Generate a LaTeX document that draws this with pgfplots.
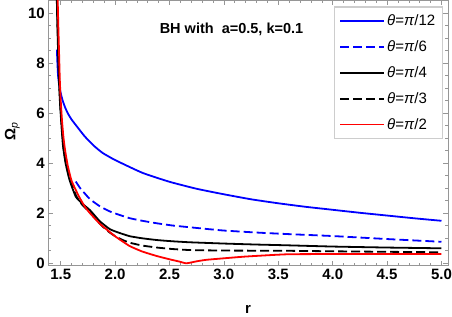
\documentclass[border=0pt]{standalone}
\usepackage{fontspec}
\setmainfont{Liberation Sans}
\usepackage{pgfplots}
\pgfplotsset{compat=1.18}
\definecolor{framegray}{RGB}{150,150,150}
\definecolor{leggray}{RGB}{205,205,205}
\begin{document}
\begin{tikzpicture}
\useasboundingbox (-48.3pt,-50.3pt) rectangle (403.7pt,265.7pt);
\begin{axis}[
  scale only axis,
  width=399.7pt, height=265.2pt,
  xmin=1.386, xmax=5.06,
  ymin=-0.096, ymax=10.51,
  xtick={1.5,2,...,5}, ytick={0,2,...,10},
  minor x tick num=4, minor y tick num=3,
  tick align=inside,
  major tick length=5pt, minor tick length=3pt,
  axis line style={framegray, line width=0.8pt},
  every tick/.style={framegray, line width=0.6pt},
  /pgf/number format/assume math mode=true,
  xticklabel style={font=\fontsize{15}{15}\selectfont\bfseries, /pgf/number format/.cd, fixed, fixed zerofill, precision=1},
  yticklabel style={font=\fontsize{15}{15}\selectfont\bfseries},
  xlabel={r},
  xlabel style={font=\fontsize{15}{15}\selectfont\bfseries, at={(rel axis cs:0.5,0)}, anchor=center, yshift=-44pt},
  ylabel={Ω\textsubscript{\mdseries\itshape p}},
  ylabel style={font=\fontsize{15}{15}\selectfont\bfseries, at={(rel axis cs:0,0.508)}, anchor=center, rotate=0, yshift=36pt},
  legend style={at={(rel axis cs:0.9875,0.979)}, anchor=north east, draw=leggray, line width=1.5pt, fill=white,
    font=\fontsize{15}{15}\selectfont, row sep=9.5pt, inner xsep=5pt, inner ysep=6pt},
  legend cell align=left,
  legend image code/.code={\draw[#1] (0pt,0pt) -- (44pt,0pt);},
  clip=true,
]
\addplot[blue, line width=1.8pt, smooth, tension=0.3] coordinates {
(1.465,8.55) (1.469,8.1) (1.475,7.55) (1.483,7.22) (1.493,6.95) (1.505,6.72) (1.52,6.48) (1.54,6.24) (1.565,6.0)
(1.6,5.75) (1.653,5.45) (1.72,5.08)
(1.8,4.72) (1.883,4.42) (2.0,4.13) (2.25,3.62) (2.5,3.26) (2.75,2.98) (3.0,2.76) (3.25,2.56) (3.5,2.4)
(3.75,2.26) (4.0,2.14) (4.25,2.02) (4.5,1.91) (4.75,1.8) (5.0,1.7)};
\addlegendentry{\textit{θ}=\textit{π}/12}
\addplot[blue, line width=1.8pt, dash pattern=on 9pt off 4pt, smooth, tension=0.3] coordinates {
(1.638,3.27) (1.68,3.0) (1.73,2.75) (1.77,2.56) (1.86,2.28) (1.954,2.07) (2.05,1.92) (2.138,1.8) (2.25,1.7)
(2.384,1.6) (2.53,1.51) (2.69,1.44) (2.85,1.37) (3.0,1.31) (3.3,1.23) (3.58,1.17) (4.0,1.09) (4.5,0.97) (5.0,0.86)};
\addlegendentry{\textit{θ}=\textit{π}/6}
\addplot[black, line width=1.8pt, smooth, tension=0.3] coordinates {
(1.464,10.6) (1.47,9.4) (1.477,8.3) (1.485,7.2) (1.495,6.3) (1.507,5.5) (1.521,4.7) (1.545,4.0) (1.58,3.35)
(1.638,2.67) (1.7,2.38) (1.77,2.12) (1.86,1.68) (1.954,1.36) (2.05,1.2) (2.138,1.08) (2.25,1.0) (2.384,0.93)
(2.53,0.88) (2.69,0.84) (3.0,0.79) (3.3,0.75) (3.58,0.72) (4.0,0.67) (4.5,0.63) (5.0,0.6)};
\addlegendentry{\textit{θ}=\textit{π}/4}
\addplot[black, line width=1.8pt, dash pattern=on 9pt off 4pt, smooth, tension=0.3] coordinates {
(1.466,10.6) (1.472,9.4) (1.479,8.3) (1.487,7.2) (1.497,6.3) (1.509,5.5) (1.525,4.65) (1.55,3.95)
(1.59,3.3) (1.645,2.67) (1.7,2.33) (1.77,2.03) (1.86,1.58) (1.93,1.3) (1.984,1.13) (2.06,0.95) (2.138,0.82)
(2.25,0.71) (2.384,0.63) (2.53,0.57) (2.69,0.53) (3.0,0.51) (3.58,0.5) (4.0,0.48) (4.5,0.46) (5.0,0.44)};
\addlegendentry{\textit{θ}=\textit{π}/3}
\addplot[red, line width=1.8pt, smooth, tension=0.3] coordinates {
(1.472,10.6) (1.478,9.5) (1.485,8.4) (1.492,7.3) (1.5,6.53) (1.512,5.7) (1.525,5.05) (1.54,4.53) (1.565,3.9)
(1.6,3.3) (1.668,2.67) (1.724,2.25) (1.77,2.0) (1.86,1.58) (1.954,1.24) (2.0,1.08) (2.07,0.87) (2.138,0.68)
(2.25,0.47) (2.384,0.29) (2.5,0.16) (2.59,0.07) (2.655,0.0) (2.75,0.08) (2.84,0.14) (3.0,0.2) (3.2,0.27)
(3.58,0.36) (4.0,0.37) (4.5,0.37) (5.0,0.37)};
\addlegendentry{\textit{θ}=\textit{π}/2}
\node[font=\fontsize{14.5}{15}\selectfont\bfseries] at (axis cs:3.07,9.35) {BH with\ \ a=0.5, k=0.1};
\end{axis}
\end{tikzpicture}
\end{document}
